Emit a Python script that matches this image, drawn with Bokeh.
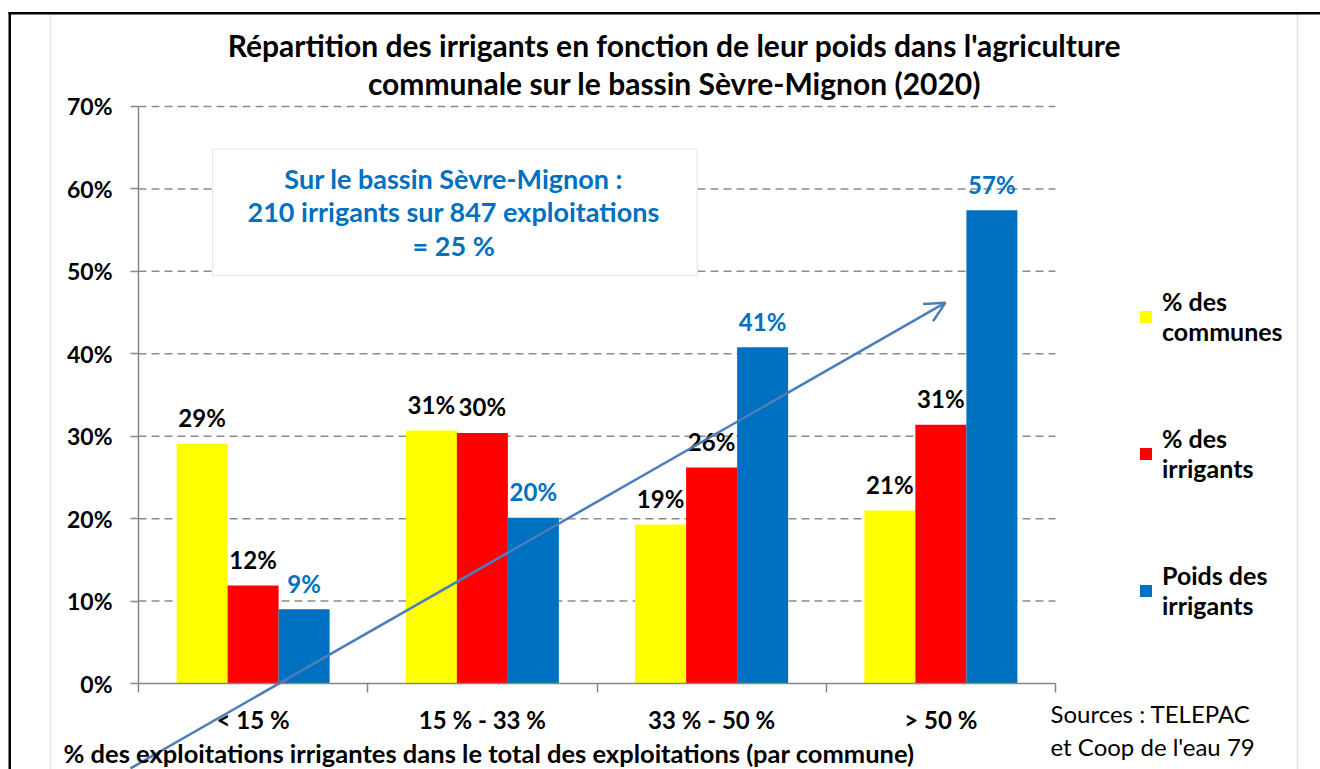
from bokeh.plotting import figure
from bokeh.models import (Range1d, FixedTicker, PrintfTickFormatter, Legend, LegendItem,
                          Label, BoxAnnotation, Arrow, OpenHead, ColumnDataSource)
from bokeh.transform import dodge
from bokeh.core.properties import value
from bokeh.embed import file_html
from bokeh.resources import INLINE

# ---- data ----
categories = ["< 15 %", "15 % - 33 %", "33 % - 50 %", "> 50 %"]
communes = [29.1, 30.7, 19.3, 21.0]
irrigants = [11.9, 30.4, 26.2, 31.4]
poids = [9.0, 20.1, 40.8, 57.4]
series_names = ["% des\ncommunes", "% des\nirrigants", "Poids des\nirrigants"]
y_ticks = [0, 10, 20, 30, 40, 50, 60, 70]
title_lines = ["Répartition des irrigants en fonction de leur poids dans l'agriculture",
               "communale sur le bassin Sèvre-Mignon (2020)"]
x_title = "% des exploitations irrigantes dans le total des exploitations (par commune)"
info_text = "Sur le bassin Sèvre-Mignon :\n210 irrigants sur 847 exploitations\n= 25 %"
sources = ["Sources : TELEPAC", "et Coop de l'eau 79"]

FONT = "Lato"
YELLOW, RED, BLUE = "#FFFF00", "#FF0000", "#0070C0"
ARROW_C = "#4A7EBB"
AX_C = "#868686"
GRID_C = "#8C8C8C"

W, H = 1320, 769
xc = [i + 0.5 for i in range(len(categories))]
src = ColumnDataSource(dict(
    x=xc, communes=communes, irrigants=irrigants, poids=poids,
    t_communes=[f"{round(v)}%" for v in communes],
    t_irrigants=[f"{round(v)}%" for v in irrigants],
    t_poids=[f"{round(v)}%" for v in poids],
))

# the frame covers the whole canvas; axes are drawn at fixed locations
p = figure(width=W, height=H, output_backend="svg", toolbar_location=None,
           x_range=Range1d(-138 / 229.25, (W - 138) / 229.25),
           y_range=Range1d(-(H - 683) / 8.243, 683 / 8.243),
           min_border=0)
p.title.visible = False
p.outline_line_color = None
p.background_fill_color = "white"
p.border_fill_color = "white"

# axes
p.yaxis.fixed_location = 0
p.yaxis.bounds = (0, 70)
p.yaxis.ticker = FixedTicker(ticks=y_ticks)
p.yaxis.formatter = PrintfTickFormatter(format="%d%%")
p.yaxis.major_label_text_font = FONT
p.yaxis.major_label_text_font_size = "23px"
p.yaxis.major_label_text_font_style = "bold"
p.yaxis.major_label_text_color = "black"
p.yaxis.major_tick_out = 8
p.yaxis.major_tick_in = 0
p.yaxis.minor_tick_out = 0
p.yaxis.minor_tick_in = 0
p.yaxis.major_label_standoff = 18
p.yaxis.axis_line_color = AX_C
p.yaxis.major_tick_line_color = AX_C
p.yaxis.axis_line_width = 1.5
p.yaxis.major_tick_line_width = 1.5

p.xaxis.fixed_location = 0
p.xaxis.bounds = (0, len(categories))
p.xaxis.ticker = FixedTicker(ticks=xc, minor_ticks=list(range(len(categories) + 1)))
p.xaxis.major_label_overrides = {x: c for x, c in zip(xc, categories)}
p.xaxis.major_tick_out = 0
p.xaxis.major_tick_in = 0
p.xaxis.minor_tick_out = 9
p.xaxis.minor_tick_in = 0
p.xaxis.minor_tick_line_color = AX_C
p.xaxis.minor_tick_line_width = 1.5
p.xaxis.axis_line_color = AX_C
p.xaxis.axis_line_width = 1.5
p.xaxis.major_label_standoff = 12
p.xaxis.major_label_text_font = FONT
p.xaxis.major_label_text_font_size = "24px"
p.xaxis.major_label_text_font_style = "bold"
p.xaxis.major_label_text_color = "black"

p.xgrid.visible = False
p.ygrid.visible = False
# dashed horizontal gridlines limited to the plot area
p.segment(x0=0, x1=len(categories), y0=y_ticks[1:], y1=y_ticks[1:],
          line_color=GRID_C, line_dash="8 5", line_width=1.5)

# bars
bw = 51 / 229.25
r1 = p.vbar(x=dodge("x", -bw, range=p.x_range), top="communes", width=bw, source=src,
            fill_color=YELLOW, line_color=None)
r2 = p.vbar(x=dodge("x", 0, range=p.x_range), top="irrigants", width=bw, source=src,
            fill_color=RED, line_color=None)
r3 = p.vbar(x=dodge("x", bw, range=p.x_range), top="poids", width=bw, source=src,
            fill_color=BLUE, line_color=None)

# value labels
for off, col, tcol, c in [(-bw, "communes", "t_communes", "black"),
                          (0, "irrigants", "t_irrigants", "black"),
                          (bw, "poids", "t_poids", BLUE)]:
    p.text(x=dodge("x", off, range=p.x_range), y=col, text=tcol, source=src,
           text_align="center", text_baseline="alphabetic", y_offset=-26,
           text_font=value(FONT), text_font_size="24px", text_font_style="bold",
           text_color=c)

# chart border and outer frame lines (screen units, y measured from bottom)
p.add_layout(BoxAnnotation(left=50, right=1297, top=H - 13, bottom=-10,
                           left_units="screen", right_units="screen",
                           top_units="screen", bottom_units="screen",
                           fill_alpha=0, line_color="#A6A6A6", line_width=1.5))
p.add_layout(BoxAnnotation(left=8, right=W + 5, top=H - 11.5, bottom=H - 14,
                           left_units="screen", right_units="screen",
                           top_units="screen", bottom_units="screen",
                           fill_color="black", fill_alpha=1, line_color=None))
p.add_layout(BoxAnnotation(left=8, right=10.5, top=H - 11.5, bottom=-10,
                           left_units="screen", right_units="screen",
                           top_units="screen", bottom_units="screen",
                           fill_color="black", fill_alpha=1, line_color=None))

# title
for txt, yy in zip(title_lines, [H - 44, H - 82]):
    p.add_layout(Label(x=674, y=yy, x_units="screen", y_units="screen", text=txt,
                       text_align="center", text_baseline="middle", text_font=FONT,
                       text_font_size="30px", text_font_style="bold", text_color="black"))

# info box
p.add_layout(BoxAnnotation(left=0.323, right=2.438, bottom=49.5, top=64.8,
                           fill_color="white", fill_alpha=1, line_color="#BFBFBF",
                           line_width=1.5))
p.add_layout(Label(x=1.375, y=57.2, text=info_text,
                   text_align="center", text_baseline="middle", text_font=FONT,
                   text_font_size="27px", text_font_style="bold", text_color=BLUE,
                   text_line_height=1.03))

# arrow
p.add_layout(Arrow(end=OpenHead(size=20, line_color=ARROW_C, line_width=2.5),
                   x_start=-0.035, y_start=-10.3, x_end=3.52, y_end=46.2,
                   line_color=ARROW_C, line_width=2.5))

# legend
legend = Legend(items=[LegendItem(label=series_names[0], renderers=[r1]),
                       LegendItem(label=series_names[1], renderers=[r2]),
                       LegendItem(label=series_names[2], renderers=[r3])],
                location=(1138, H - 620), padding=0, margin=0, spacing=77,
                glyph_width=15, glyph_height=15, label_standoff=9,
                label_text_font=FONT, label_text_font_size="25px",
                label_text_font_style="bold", label_text_color="black",
                border_line_color=None, background_fill_alpha=0)
p.add_layout(legend, "center")

# axis title and sources
p.add_layout(Label(x=63, y=H - 752, x_units="screen", y_units="screen", text=x_title,
                   text_baseline="middle", text_font=FONT, text_font_size="25.5px",
                   text_font_style="bold", text_color="black"))
for txt, yy in zip(sources, [H - 713, H - 746]):
    p.add_layout(Label(x=1050, y=yy, x_units="screen", y_units="screen", text=txt,
                       text_baseline="middle", text_font=FONT, text_font_size="24px",
                       text_color="black"))

open("out.html", "w").write(file_html(p, INLINE))
